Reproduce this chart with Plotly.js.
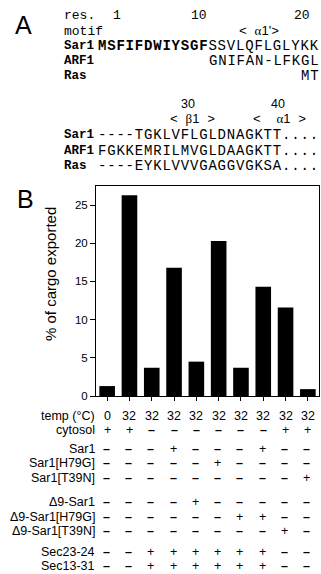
<!DOCTYPE html>
<html><head><meta charset="utf-8">
<script src="https://cdn.plot.ly/plotly-3.0.1.min.js"></script>
<style>html,body{margin:0;padding:0;background:#fff;}#chart{width:321px;height:574px;}</style>
</head><body><div id="chart"></div>
<script>
// ---- data ----
const lanes = [0,1,2,3,4,5,6,7,8,9];
const exported = [1.3, 26.3, 3.7, 16.8, 4.5, 20.3, 3.7, 14.3, 11.6, 0.9];
const yTicks = [0,5,10,15,20,25];
const yTitle = '% of cargo exported';

const rowLabels = ['temp (°C)','cytosol','Sar1','Sar1[H79G]','Sar1[T39N]','Δ9-Sar1','Δ9-Sar1[H79G]','Δ9-Sar1[T39N]','Sec23-24','Sec13-31'];
const temp       = ['0','32','32','32','32','32','32','32','32','32'];
const cytosol    = ['+','+','-','-','-','-','-','-','+','+'];
const sar1       = ['-','-','-','+','-','-','-','+','-','-'];
const sar1H79G   = ['-','-','-','-','-','+','-','-','-','-'];
const sar1T39N   = ['-','-','-','-','-','-','-','-','-','+'];
const d9Sar1     = ['-','-','-','-','+','-','-','-','-','-'];
const d9Sar1H79G = ['-','-','-','-','-','-','+','+','-','-'];
const d9Sar1T39N = ['-','-','-','-','-','-','-','-','+','-'];
const sec2324    = ['-','-','+','+','+','+','+','+','-','-'];
const sec1331    = ['-','-','+','+','+','+','+','+','-','-'];
const tableRows = [temp,cytosol,sar1,sar1H79G,sar1T39N,d9Sar1,d9Sar1H79G,d9Sar1T39N,sec2324,sec1331];

const seqNames = ['Sar1','ARF1','Ras'];
const block1Seq = ['<b>MSFIFDWIYSGF</b>SSVLQFLGLYKK','GNIFAN-LFKGL','MT'];
const block2Seq = ['----TGKLVFLGLDNAGKTT....','FGKKEMRILMVGLDAAGKTT....','----EYKLVVVGAGGVGKSA....'];
const resNums1 = ['1','10','20'];
const resNums2 = ['30','40'];
const motifs1 = ["&lt; <span style=\"font-family:'Liberation Serif'\">α</span><span style=\"font-family:Arial\">1'</span>&gt;"];
const motifs2 = ["&lt; <span style=\"font-family:'Liberation Serif'\">β</span><span style=\"font-family:Arial\">1</span> &gt;",
                 "&lt; &nbsp;<span style=\"font-family:'Liberation Serif'\">α</span><span style=\"font-family:Arial\">1</span> &gt;"];

// ---- layout helpers (pixel -> paper) ----
const W=321, H=574, L=96, R=319, T=186, B=396;
function px(x){return (x-L)/(R-L);}
function py(y){return (B-y)/(B-T);}
const sans = 'Arial, Liberation Sans, sans-serif';
const mono = 'Liberation Mono, Courier New, monospace';
function spaced(s){return '<span style="letter-spacing:0.8px">'+s+'</span>';}

const ann = [];
function txt(x,y,text,opt){
  ann.push(Object.assign({xref:'paper',yref:'paper',x:px(x),y:py(y),text:text,showarrow:false,borderpad:0,
    xanchor:'left',yanchor:'middle',font:{family:sans,size:12,color:'#000'}},opt||{}));
}

// Panel letters
txt(23,25,'A',{xanchor:'center',font:{family:sans,size:25,color:'#000'}});
txt(25,199,'B',{xanchor:'center',font:{family:sans,size:25,color:'#000'}});

// Panel A – block 1
txt(63,15,'res.',{font:{family:mono,size:13,color:'#000'}});
txt(63,31,'motif',{font:{family:mono,size:13,color:'#000'}});
const res1X=[117,199,302];
resNums1.forEach((t,i)=>txt(res1X[i],15,t,{xanchor:'center',font:{family:mono,size:13,color:'#000'}}));
txt(259,31,motifs1[0],{xanchor:'center',font:{family:mono,size:13,color:'#000'}});
const b1Y=[46,61,76];
seqNames.forEach((n,i)=>txt(63,b1Y[i],'<b>'+n+'</b>',{font:{family:mono,size:12.5,color:'#000'}}));
block1Seq.forEach((s,i)=>txt(i===0?97:320,b1Y[i],spaced(s),{xanchor:i===0?'left':'right',font:{family:mono,size:14,color:'#000'}}));

// Panel A – block 2
const res2X=[188,278];
resNums2.forEach((t,i)=>txt(res2X[i],104,t,{xanchor:'center',font:{family:sans,size:12.5,color:'#000'}}));
const mot2X=[192,279];
motifs2.forEach((t,i)=>txt(mot2X[i],119,t,{xanchor:'center',font:{family:mono,size:13,color:'#000'}}));
const b2Y=[135,151,166];
seqNames.forEach((n,i)=>txt(63,b2Y[i],'<b>'+n+'</b>',{font:{family:mono,size:12.5,color:'#000'}}));
block2Seq.forEach((s,i)=>txt(97,b2Y[i],spaced(s),{font:{family:mono,size:14,color:'#000'}}));

// y axis title
txt(50,274,yTitle,{xanchor:'center',textangle:-90,font:{family:sans,size:15,color:'#000'}});

// table
const rowY=[416,430,449,463,478,502,517,531,552,566];
rowLabels.forEach((lab,r)=>{
  txt(96,rowY[r],lab,{xanchor:'right',font:{family:sans,size:12.5,color:'#000'}});
  tableRows[r].forEach((v,i)=>{
    const t = v==='-' ? '<b>–</b>' : v;
    ann.push({xref:'x',yref:'paper',x:lanes[i],y:py(rowY[r]),text:t,showarrow:false,borderpad:0,
      xanchor:'center',yanchor:'middle',xshift:(r>=2?-1:0),
      font:{family:sans,size:12.5,color:'#000'}});
  });
});

const trace = {type:'bar',x:lanes,y:exported,width:0.7,marker:{color:'#000',line:{width:0}},hoverinfo:'none'};
const layout = {
  width:W,height:H,margin:{l:L,r:W-R,t:T,b:H-B,pad:0},
  paper_bgcolor:'#fff',plot_bgcolor:'#fff',showlegend:false,
  xaxis:{range:[-0.5,9.5],tickvals:lanes,showticklabels:false,ticks:'outside',ticklen:4,tickwidth:1,tickcolor:'#000',
    showline:true,linecolor:'#000',linewidth:1,mirror:true,showgrid:false,zeroline:false,fixedrange:true},
  yaxis:{range:[0,27.5],tickvals:yTicks,ticks:'outside',ticklen:5,tickwidth:1,tickcolor:'#000',
    tickfont:{family:sans,size:11.5,color:'#000'},
    showline:true,linecolor:'#000',linewidth:1,mirror:true,showgrid:false,zeroline:false,fixedrange:true},
  annotations:ann
};
Plotly.newPlot('chart',[trace],layout,{displayModeBar:false,staticPlot:true});
</script></body></html>
